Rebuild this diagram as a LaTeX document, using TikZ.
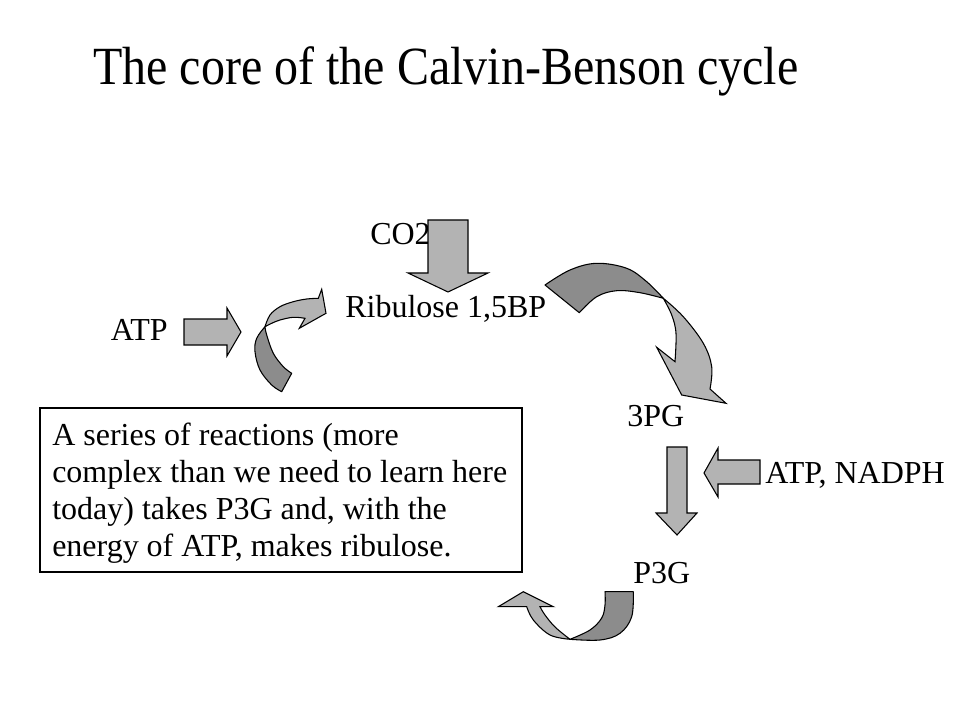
\documentclass[tikz,border=0pt]{standalone}
\usepackage{fontspec}
\setmainfont{Liberation Serif}
\definecolor{arrlight}{HTML}{B3B3B3}
\definecolor{arrdark}{HTML}{8C8C8C}
\begin{document}
\begin{tikzpicture}[x=0.75pt,y=-0.75pt,
  blockarrow/.style={fill=arrlight,draw=black,line width=0.8pt,line join=miter},
  backpart/.style={fill=arrdark,draw=black,line width=0.8pt,line join=round},
  frontpart/.style={fill=arrlight,draw=black,line width=0.8pt,line join=miter},
  lbl/.style={inner sep=0pt,anchor=base west,font=\fontsize{24}{28}\selectfont},
  boxline/.style={inner sep=0pt,anchor=base west,font=\fontsize{24}{28}\selectfont}]
\useasboundingbox (0,0) rectangle (960,720);
\fill[white] (0,0) rectangle (960,720);

% title
\node[inner sep=0pt,anchor=base west,font=\fontsize{36}{42}\selectfont,yscale=1.12] (title) at (93,85) {The core of the Calvin-Benson cycle};

% labels
\node[lbl] (co2) at (370,245) {CO2};
\node[lbl] (rub) at (345,317) {Ribulose 1,5BP};
\node[lbl,anchor=base east] (atp) at (168,340) {ATP};
\node[lbl] (pg) at (627,426) {3PG};
\node[lbl] (nadph) at (765,483) {ATP, NADPH};
\node[lbl] (p3g) at (633,583) {P3G};

% text box
\draw[line width=0.8pt] (40,408) rectangle (522,572);
\node[boxline] (b1) at (52,445) {A series of reactions (more};
\node[boxline] (b2) at (52,482) {complex than we need to learn here};
\node[boxline] (b3) at (52,519) {today) takes P3G and, with the};
\node[boxline] (b4) at (52,556) {energy of ATP, makes ribulose.};

% straight block arrows
\draw[blockarrow] (428,220) -- (468,220) -- (468,273) -- (488,273) -- (448,292) -- (408,273) -- (428,273) -- cycle;
\draw[blockarrow] (184,319) -- (227,319) -- (227,308) -- (241,332) -- (227,356) -- (227,345) -- (184,345) -- cycle;
\draw[blockarrow] (667,447) -- (687,447) -- (687,513) -- (697,513) -- (677,535) -- (656,513) -- (667,513) -- cycle;
\draw[blockarrow] (760,460) -- (718,460) -- (718,448) -- (704,473) -- (718,497) -- (718,484) -- (760,484) -- cycle;

% curved arrow top right
\draw[backpart] (545,285) -- plot[smooth,tension=0.6] coordinates {(545,285) (570,270) (596.7,263.3) (626.7,268.3) (646.7,281.7) (663.3,298.3)}
  -- plot[smooth,tension=0.6] coordinates {(663.3,298.3) (640,292.7) (616.7,290.7) (596.7,296.7) (579.3,312.7)} -- cycle;
\draw[frontpart] (663.3,298.3) -- plot[smooth,tension=0.6] coordinates {(663.3,298.3) (671.7,315) (676,333.3) (675,361.7)}
  -- (656.7,347.3) -- (681.7,395) -- (726,403.3) -- (710,389)
  -- plot[smooth,tension=0.6] coordinates {(710,389) (711.7,366.7) (703.3,343.3) (683.3,316.7) (663.3,298.3)} -- cycle;

% curved arrow left
\draw[backpart] (265,326.7) -- plot[smooth,tension=0.6] coordinates {(265,326.7) (256.7,338.3) (255,351.7) (260,370) (271.7,385) (281.7,391.7)}
  -- (291.7,373.3) -- plot[smooth,tension=0.6] coordinates {(291.7,373.3) (283.3,366.7) (273.3,353.3) (266.7,335) (265,326.7)} -- cycle;
\draw[frontpart] (265,326.7) -- plot[smooth,tension=0.6] coordinates {(265,326.7) (270,315) (280,306.7) (293.3,301.7) (306.7,299) (318.3,298.3)}
  -- (321.7,289.3) -- (326,313.3) -- (299.3,328.3) -- (305,318.3)
  -- plot[smooth,tension=0.6] coordinates {(305,318.3) (293.3,317.3) (280,320) (271.7,323.3) (265,326.7)} -- cycle;

% curved arrow bottom
\draw[backpart] (605,591.7) -- (633.3,591.7) -- plot[smooth,tension=0.6] coordinates {(633.3,591.7) (631.7,616.7) (620,633.3) (600,640) (570,639.3)}
  -- plot[smooth,tension=0.6] coordinates {(570,639.3) (590,630) (601.7,618) (605,605) (605,591.7)} -- cycle;
\draw[frontpart] (570,639.3) -- plot[smooth,tension=0.6] coordinates {(570,639.3) (550,635) (533.3,620) (526.7,606.7)}
  -- (498.3,606.7) -- (523.3,591.7) -- (553.3,606.7) -- (540,606.7)
  -- plot[smooth,tension=0.6] coordinates {(540,606.7) (545,615) (555,627) (570,639.3)} -- cycle;
\end{tikzpicture}
\end{document}
